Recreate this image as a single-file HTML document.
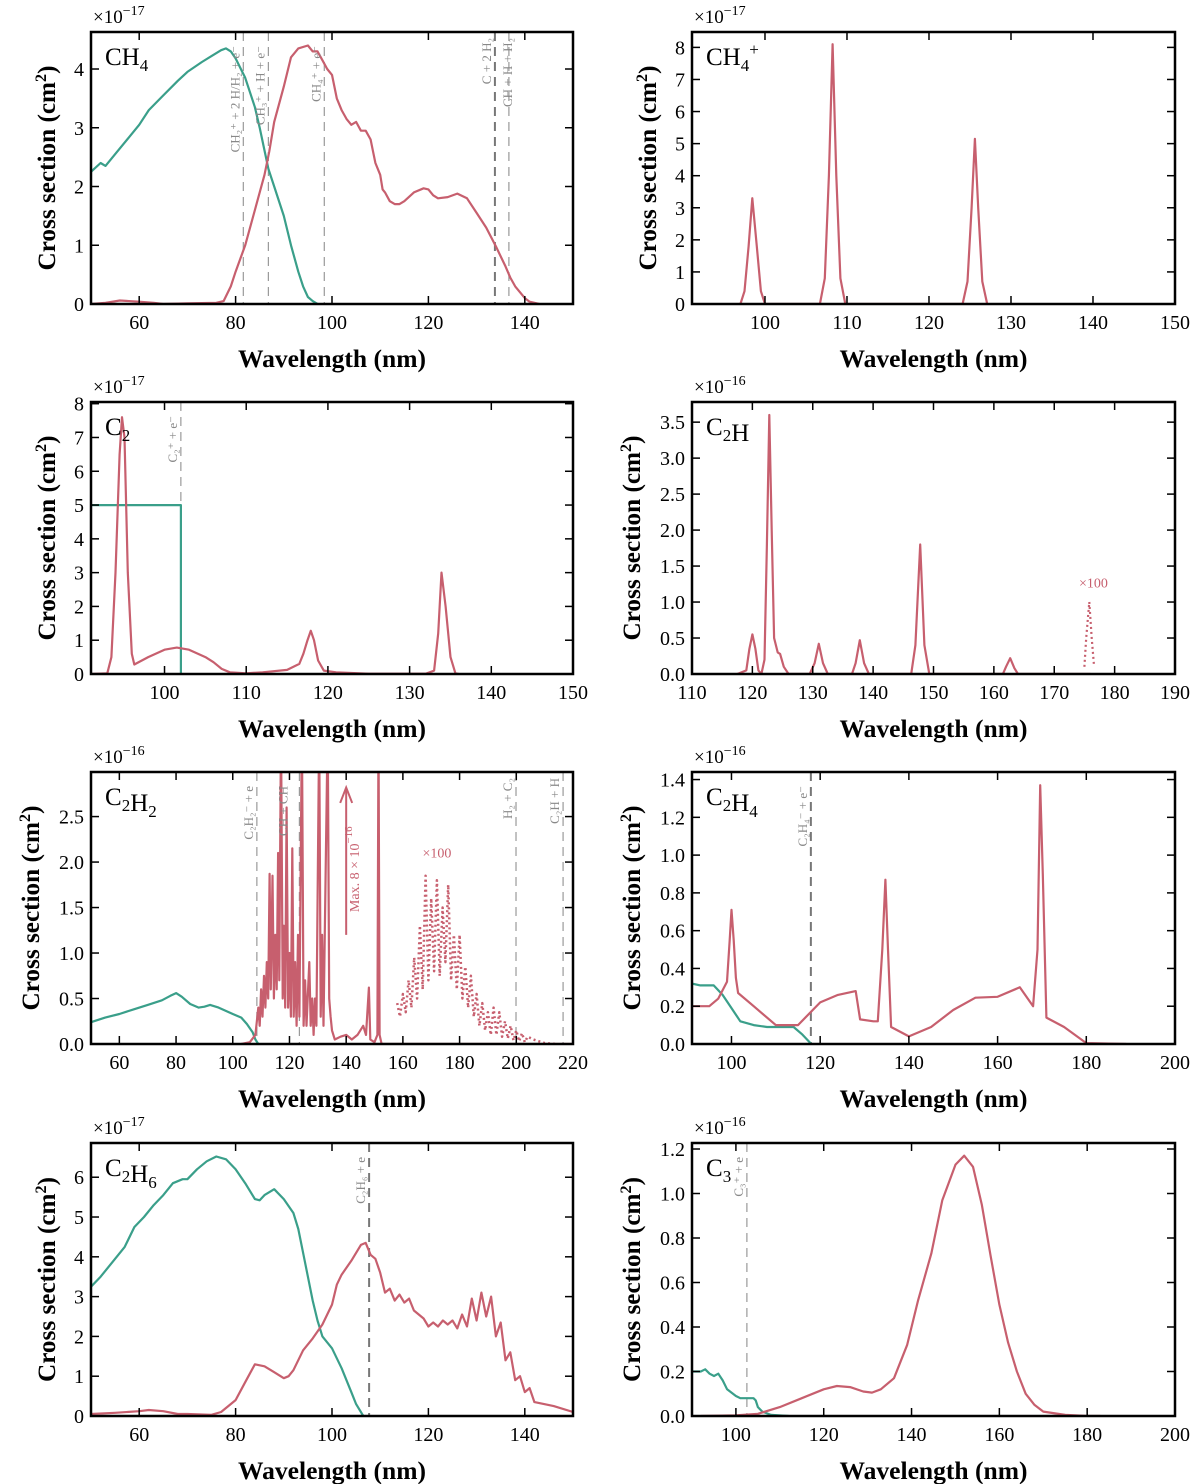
<!DOCTYPE html>
<html><head><meta charset="utf-8"><style>
html,body{margin:0;padding:0;background:#fff}
svg{display:block;font-family:"Liberation Serif","DejaVu Serif",serif}
</style></head><body>
<svg id="fig" width="1200" height="1484" viewBox="0 0 1200 1484" xmlns="http://www.w3.org/2000/svg"></svg>
<script>
// ---------- DATA (wavelength nm, cross section in panel units) ----------
const ch4IonX=[50,52,53,55,58,60,62,65,68,70,73,75,77,78,79,80,82,84,85,86.8,88,90,91.5,93,94,95,96,97];
const ch4IonY=[2.25,2.4,2.35,2.55,2.85,3.05,3.3,3.55,3.8,3.95,4.12,4.22,4.32,4.35,4.3,4.18,3.85,3.35,3.0,2.3,2.0,1.5,1.0,0.55,0.3,0.12,0.05,0];
const ch4AbsX=[50,53,56,60,63,65,70,76,77.5,79,80,82,84,86,87,88,90,91.5,93,95,96,97,98,99,100,101,102,103,104,105,106,107,108,108.5,109,110,110.5,111,112,113,114,115,117,119,120,121,122,124,126,128,130,132,134,136,137,138,140,141,143];
const ch4AbsY=[0,0.02,0.06,0.04,0.02,0,0.01,0.02,0.05,0.3,0.55,1.0,1.6,2.2,2.6,3.1,3.7,4.2,4.35,4.4,4.3,4.3,4.15,4.0,3.9,3.5,3.3,3.15,3.05,3.1,2.95,2.95,2.8,2.6,2.4,2.2,1.95,1.9,1.75,1.7,1.7,1.75,1.9,1.97,1.95,1.85,1.8,1.82,1.88,1.8,1.55,1.3,0.98,0.64,0.45,0.3,0.1,0.04,0];
const ch4LinesX=[81.6,86.8,98.4,133.8,136.7];
const ch4LinesLbl=["CH₂⁺ + 2 H/H₂ + e⁻","CH₃⁺ + H + e⁻","CH₄⁺ + e⁻","C + 2 H₂","CH + H + H₂"];

const ch4pX=[97,97.5,98,98.45,99,99.5,100,106.7,107.3,107.8,108.25,108.7,109.2,109.8,124.1,124.7,125.2,125.6,126,126.5,127.1];
const ch4pY=[0,0.4,1.8,3.3,1.8,0.4,0,0,0.8,4,8.1,4,0.8,0,0,0.7,3,5.15,3,0.7,0];

const c2AbsX=[91,93,93.5,94,94.5,94.8,95.1,95.5,96,96.3,98,100,101.5,103,105,106,107,108,110,112,115,116.5,117,117.5,117.9,118.3,118.8,119.5,121,125,132,133,133.5,133.9,134.4,135,135.6,136];
const c2AbsY=[0,0.02,0.5,3,6.5,7.6,7,3,0.6,0.28,0.5,0.72,0.78,0.72,0.5,0.35,0.15,0.05,0.02,0.05,0.12,0.3,0.6,1.0,1.28,1.0,0.4,0.1,0.05,0.01,0.01,0.1,1.2,3.0,2.0,0.5,0.02,0];
const c2IonX=[91,102,102];
const c2IonY=[5,5,0];

const c2hAbsX=[117.5,119,119.5,120,120.5,121,121.5,122,122.4,122.8,123.2,123.6,124.2,124.6,125.2,126,129.5,130.3,131,131.7,132.5,136.5,137.1,137.8,138.5,139.3,146.3,147,147.8,148.5,149.3,161.5,162,162.7,163.4,164,176];
const c2hAbsY=[0,0.05,0.35,0.55,0.35,0.05,0,0.2,1.8,3.6,2.0,0.5,0.3,0.28,0.1,0,0,0.15,0.42,0.15,0,0,0.15,0.47,0.15,0,0,0.4,1.8,0.4,0,0,0.1,0.22,0.08,0,0];
const c2hX100X=[175,175.3,175.8,176.2,176.6];
const c2hX100Y=[0.1,0.5,1.0,0.5,0.1];

const c2h2IonX=[50,55,60,65,70,75,78,80,82,85,88,90,92,95,100,103,105,107,108,109];
const c2h2IonY=[0.24,0.29,0.33,0.38,0.43,0.48,0.53,0.56,0.52,0.44,0.4,0.41,0.43,0.4,0.33,0.29,0.22,0.13,0.05,0];
const c2h2AbsX=[103,106,108,109,109.5,110,110.5,111,111.5,112,112.5,113,113.4,114,114.5,115,115.5,116,116.4,117,117.6,118,118.5,119,119.5,120,120.5,121,121.5,122,122.5,123,123.5,124.4,125,125.5,126,127,127.5,128,128.5,129,129.5,130.5,131,131.5,132,133.5,134,134.5,135,136,138,140,142,144,146,147,148,148.5,150,151,151.4,151.8,152.5,220];
const c2h2AbsY=[0,0.02,0.1,0.4,0.2,0.6,0.3,0.75,0.4,0.9,0.5,1.87,0.6,1.85,0.5,1.2,0.6,2.1,0.7,3.5,0.5,1.3,0.4,2.6,0.4,1.0,0.3,2.15,0.3,0.9,0.2,1.2,0.3,3.5,0.2,0.7,0.2,0.9,0.2,0.5,0.1,0.5,0.2,3.5,0.3,1.2,0.2,3.5,0.5,0.3,0.15,0.05,0.08,0.1,0.05,0.1,0.2,0.1,0.62,0.05,0.02,0.1,3.5,0.1,0,0];
const c2h2X100X=[158,159,160,161,162,163,164,165,166,167,168,169,170,171,172,173,174,175,176,177,178,179,180,181,182,183,184,185,186,187,188,189,190,191,192,193,194,195,196,197,198,199,200,201,202,203,204,206,208,210,214];
const c2h2X100Y=[0.45,0.3,0.55,0.35,0.7,0.4,0.95,0.5,1.3,0.6,1.85,0.7,1.6,0.8,1.8,0.75,1.5,0.9,1.75,0.7,1.2,0.6,1.2,0.5,0.85,0.4,0.75,0.3,0.55,0.2,0.45,0.15,0.35,0.1,0.4,0.1,0.35,0.08,0.25,0.06,0.2,0.04,0.15,0.03,0.12,0.02,0.08,0.05,0.03,0.01,0];
const c2h2LinesX=[108.5,123.5,199.9,216.5];
const c2h2LinesLbl=["C₂H₂⁻ + e","CH + CH","H₂ + C₂","C₂H + H"];

const c2h4AbsX=[91.1,95,97,99,99.6,100,100.5,101,101.5,105,110,115,120,124,128,129,132,133,134,134.7,135.3,136,140,145,150,155,160,165,168,169,169.6,170.2,171,175,180,189];
const c2h4AbsY=[0.2,0.2,0.24,0.33,0.55,0.71,0.55,0.35,0.27,0.2,0.1,0.1,0.22,0.26,0.28,0.13,0.12,0.12,0.5,0.87,0.5,0.09,0.04,0.09,0.18,0.245,0.25,0.3,0.2,0.5,1.37,0.9,0.14,0.09,0.005,0];
const c2h4IonX=[91.1,93,96,98,100,102,105,108,111,114,116,118];
const c2h4IonY=[0.32,0.31,0.31,0.26,0.19,0.12,0.1,0.09,0.09,0.09,0.05,0];

const c2h6IonX=[50,52,55,57,59,61,63,65,67,69,70,72,74,76,78,80,82,84,85,86,88,90,92,93,94,95,96,97,98,100,102,104,105,106.5];
const c2h6IonY=[3.25,3.5,3.95,4.25,4.75,5.0,5.3,5.55,5.85,5.95,5.95,6.2,6.4,6.52,6.45,6.2,5.85,5.45,5.42,5.55,5.7,5.45,5.1,4.7,4.1,3.5,2.9,2.4,2.0,1.7,1.2,0.6,0.3,0];
const c2h6AbsX=[50,55,60,62,65,68,70,75,77,80,82,84,86,88,90,91,92,94,96,98,100,101,102,104,106,107,108,109,110,111,112,113,114,115,116,117,119,120,121,122,123,124,125,126,127,128,129,130,131,132,133,134,135,136,137,138,139,140,141,142,144,146,150];
const c2h6AbsY=[0.05,0.08,0.12,0.15,0.12,0.05,0.05,0.03,0.1,0.4,0.85,1.3,1.25,1.1,0.95,1.0,1.15,1.65,1.95,2.3,2.8,3.3,3.55,3.9,4.3,4.35,4.05,3.95,3.6,3.1,3.2,2.9,3.05,2.85,2.95,2.65,2.45,2.25,2.35,2.25,2.4,2.3,2.4,2.2,2.55,2.25,2.95,2.4,3.1,2.5,3.0,2.0,2.35,1.4,1.6,0.9,1.0,0.6,0.7,0.35,0.3,0.25,0.1];

const c3AbsX=[92,100,105,110,115,120,123,126,129,131,133,136,139,141.5,144.5,147,150,152,154,156,158,160,162,164,166,168,170,175,180,183];
const c3AbsY=[0,0.003,0.01,0.04,0.08,0.12,0.135,0.13,0.11,0.105,0.12,0.17,0.32,0.52,0.73,0.97,1.13,1.17,1.12,0.95,0.72,0.5,0.33,0.2,0.1,0.05,0.02,0.005,0,0];
const c3IonX=[90,92,93,94,95,96,97,98,100,101,103,104,104.5,105,106,108,112];
const c3IonY=[0.2,0.2,0.21,0.19,0.18,0.19,0.16,0.12,0.09,0.08,0.08,0.08,0.07,0.04,0.02,0.005,0];

// ---------- RENDER ----------
const NS="http://www.w3.org/2000/svg";
const svg=document.getElementById('fig');
const TEAL="#3a9f8a", RED="#c75f6e";
function mk(tag,attrs,parent){const e=document.createElementNS(NS,tag);for(const k in attrs)e.setAttribute(k,attrs[k]);(parent||svg).appendChild(e);return e;}
function range(a,b,s){const r=[];for(let v=a;v<=b+1e-9;v+=s)r.push(Math.round(v*1000)/1000);return r;}

function panel(p){
  const g=mk('g',{});
  
  
  const X=v=>p.L+(v-p.x0)/(p.x1-p.x0)*(p.R-p.L);
  const Y=v=>p.B-(v-p.y0)/(p.y1-p.y0)*(p.B-p.T);
  p.X=X;p.Y=Y;
  const cid='clip-'+p.name;
  const cp=mk('clipPath',{id:cid},g);
  mk('rect',{x:p.L,y:p.T,width:p.R-p.L,height:p.B-p.T},cp);
  const plot=mk('g',{'clip-path':'url(#'+cid+')'},g);
  p.plot=plot;p.g=g;
  // dashed lines
  (p.lines||[]).forEach((lx,i)=>{
    const dark=p.dark&&p.dark.includes(i);
    const l=mk('line',{x1:X(lx),x2:X(lx),y1:p.T,y2:p.B,stroke:dark?'#777':'#999','stroke-width':dark?2:1.2,'stroke-dasharray':'9 6'},plot);
    
    
    const t=mk('text',{x:0,y:0,transform:`translate(${X(lx)-4+(p.lblDx?p.lblDx[i]:0)},${p.T+(p.lblTop?p.lblTop[i]:14)}) rotate(-90)`,'text-anchor':'end','font-size':13,fill:'#888'},g);
    t.textContent=p.lineLbl[i];
    
    
  });
  // series
  p.series.forEach(s=>{
    let d='';
    s.x.forEach((v,i)=>{d+=(i?'L':'M')+X(v).toFixed(1)+','+Y(s.y[i]).toFixed(1);});
    const a={d:d,fill:'none',stroke:s.c,'stroke-width':s.w||2.2,'stroke-linejoin':'round'};
    if(s.dot)a['stroke-dasharray']='2 3';
    const path=mk('path',a,plot);
    
    
  });
  // frame
  const fr=mk('rect',{x:p.L,y:p.T,width:p.R-p.L,height:p.B-p.T,fill:'none',stroke:'#000','stroke-width':2.5},g);
  
  
  // ticks
  p.xt.forEach(v=>{
    const x=X(v);
    mk('line',{x1:x,x2:x,y1:p.B,y2:p.B-8,stroke:'#000','stroke-width':1.5},g);
    mk('line',{x1:x,x2:x,y1:p.T,y2:p.T+8,stroke:'#000','stroke-width':1.5},g);
    const t=mk('text',{x:x,y:p.B+25,'text-anchor':'middle','font-size':20},g);
    t.textContent=String(v);
    
    
  });
  p.yt.forEach(v=>{
    const y=Y(v);
    mk('line',{x1:p.L,x2:p.L+8,y1:y,y2:y,stroke:'#000','stroke-width':1.5},g);
    mk('line',{x1:p.R,x2:p.R-8,y1:y,y2:y,stroke:'#000','stroke-width':1.5},g);
    const t=mk('text',{x:p.L-7,y:y+7,'text-anchor':'end','font-size':20},g);
    t.textContent=p.dec?v.toFixed(1):String(v);
    
    
  });
  // titles
  const xt=mk('text',{x:(p.L+p.R)/2,y:p.B+63,'text-anchor':'middle','font-size':25,'font-weight':'bold',textLength:188,lengthAdjust:'spacingAndGlyphs'},g);
  xt.textContent='Wavelength (nm)';
  
  
  const yx=p.L-(p.dec?61:45);
  const yt=mk('text',{x:0,y:0,transform:`translate(${yx+9},${(p.T+p.B)/2}) rotate(-90)`,'text-anchor':'middle','font-size':25,'font-weight':'bold',textLength:205,lengthAdjust:'spacingAndGlyphs'},g);
  yt.innerHTML='Cross section (cm<tspan font-size="16" dy="-9">2</tspan><tspan dy="9">)</tspan>';
  
  
  const ex=mk('text',{x:p.L+2,y:p.T-9,'font-size':19},g);
  ex.innerHTML='×10<tspan font-size="14" dy="-8">'+p.exp+'</tspan>';
  
  
  const lb=mk('text',{x:p.L+14,y:p.T+33,'font-size':25},g);
  lb.innerHTML=p.label;
  
  
  return p;
}
const sub=s=>'<tspan font-size="17" dy="6">'+s+'</tspan><tspan dy="-6"></tspan>';

panel({name:'ch4',L:91,R:573,T:32,B:304,x0:50,x1:150,y0:0,y1:4.63,xt:range(60,140,20),yt:range(0,4,1),exp:'−17',
  label:'CH'+sub('4'),lines:ch4LinesX,lineLbl:ch4LinesLbl,dark:[3],lblTop:[14,14,14,6,6],lblDx:[0,0,0,0,7],
  series:[{x:ch4IonX,y:ch4IonY,c:TEAL,n:'ch4-ionisation-curve'},{x:ch4AbsX,y:ch4AbsY,c:RED,n:'ch4-absorption-curve'}]});

panel({name:'ch4plus',L:692,R:1175,T:32,B:304,x0:91.1,x1:150,y0:0,y1:8.48,xt:range(100,150,10),yt:range(0,8,1),exp:'−17',
  label:'CH'+sub('4')+'<tspan font-size="17" dy="-16">+</tspan>',
  series:[{x:ch4pX,y:ch4pY,c:RED,n:'ch4plus-absorption-curve'}]});

panel({name:'c2',L:91,R:573,T:402,B:674,x0:91,x1:150,y0:0,y1:8.05,xt:range(100,150,10),yt:range(0,8,1),exp:'−17',
  label:'C'+sub('2'),lines:[102],lineLbl:['C₂⁺ + e⁻'],
  series:[{x:c2IonX,y:c2IonY,c:TEAL,n:'c2-ionisation-curve'},{x:c2AbsX,y:c2AbsY,c:RED,n:'c2-absorption-curve'}]});

const p4=panel({name:'c2h',L:692,R:1175,T:402,B:674,x0:110,x1:190,y0:0,y1:3.78,xt:range(110,190,10),yt:range(0,3.5,0.5),dec:true,exp:'−16',
  label:'C'+sub('2')+'H',
  series:[{x:c2hAbsX,y:c2hAbsY,c:RED,n:'c2h-absorption-curve'},{x:c2hX100X,y:c2hX100Y,c:RED,dot:true,n:'c2h-x100-curve'}]});
{const t=mk('text',{x:p4.X(176.5),y:p4.Y(1.2),'text-anchor':'middle','font-size':14,fill:RED},p4.g);t.textContent='×100';

}

const p5=panel({name:'c2h2',L:91,R:573,T:772,B:1044,x0:50,x1:220,y0:0,y1:2.99,xt:range(60,220,20),yt:range(0,2.5,0.5),dec:true,exp:'−16',
  label:'C'+sub('2')+'H'+sub('2'),lines:c2h2LinesX,lineLbl:c2h2LinesLbl,lblTop:[14,14,6,6],lblDx:[0,-8,0,0],
  series:[{x:c2h2IonX,y:c2h2IonY,c:TEAL,n:'c2h2-ionisation-curve'},{x:c2h2AbsX,y:c2h2AbsY,c:RED,n:'c2h2-absorption-curve'},{x:c2h2X100X,y:c2h2X100Y,c:RED,dot:true,w:2.5,n:'c2h2-x100-curve'}]});
{const ax=p5.X(140);
const ar=mk('line',{x1:ax,x2:ax,y1:p5.Y(1.2),y2:p5.Y(2.8),stroke:RED,'stroke-width':2},p5.g);


mk('path',{d:`M${ax-6},${p5.Y(2.65)}L${ax},${p5.Y(2.82)}L${ax+6},${p5.Y(2.65)}`,fill:'none',stroke:RED,'stroke-width':2},p5.g);
const t=mk('text',{x:0,y:0,transform:`translate(${p5.X(144.5)},${p5.Y(1.45)}) rotate(-90)`,'font-size':14,fill:RED},p5.g);
t.innerHTML='Max. 8 × 10<tspan font-size="11" dy="-7">−16</tspan>';


const t2=mk('text',{x:p5.X(172),y:p5.Y(2.05),'text-anchor':'middle','font-size':14,fill:RED},p5.g);t2.textContent='×100';

}

panel({name:'c2h4',L:692,R:1175,T:772,B:1044,x0:91.1,x1:200,y0:0,y1:1.44,xt:range(100,200,20),yt:range(0,1.4,0.2),dec:true,exp:'−16',
  label:'C'+sub('2')+'H'+sub('4'),lines:[117.9],lineLbl:['C₂H₄⁻ + e⁻'],dark:[0],
  series:[{x:c2h4IonX,y:c2h4IonY,c:TEAL,n:'c2h4-ionisation-curve'},{x:c2h4AbsX,y:c2h4AbsY,c:RED,n:'c2h4-absorption-curve'}]});

panel({name:'c2h6',L:91,R:573,T:1143,B:1416,x0:50,x1:150,y0:0,y1:6.86,xt:range(60,140,20),yt:range(0,6,1),exp:'−17',
  label:'C'+sub('2')+'H'+sub('6'),lines:[107.7],lineLbl:['C₂H₆ + e'],dark:[0],
  series:[{x:c2h6IonX,y:c2h6IonY,c:TEAL,n:'c2h6-ionisation-curve'},{x:c2h6AbsX,y:c2h6AbsY,c:RED,n:'c2h6-absorption-curve'}]});

panel({name:'c3',L:692,R:1175,T:1143,B:1416,x0:90,x1:200,y0:0,y1:1.227,xt:range(100,200,20),yt:range(0,1.2,0.2),dec:true,exp:'−16',
  label:'C'+sub('3'),lines:[102.5],lineLbl:['C₃⁺ + e'],
  series:[{x:c3IonX,y:c3IonY,c:TEAL,n:'c3-ionisation-curve'},{x:c3AbsX,y:c3AbsY,c:RED,n:'c3-absorption-curve'}]});
</script>
</body></html>
